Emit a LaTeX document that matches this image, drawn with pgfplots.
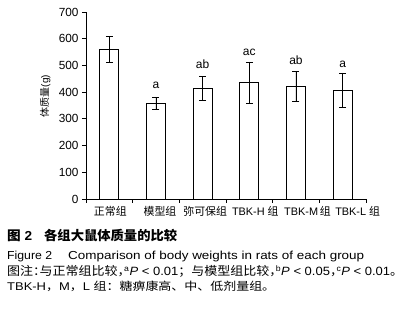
\documentclass[border=0pt]{standalone}
\usepackage{fontspec}
\setmainfont{Liberation Sans}
\newfontfamily\cjk{Noto Sans CJK SC}
\newfontfamily\cjkh[RawFeature=+halt]{Noto Sans CJK SC}
\usepackage{graphicx}
\usepackage{pgfplots}
\pgfplotsset{compat=1.18}
\newcommand\zh[1]{{\cjk #1}}
\newcommand\zhh[1]{{\cjkh #1}}
\begin{document}
\begin{tikzpicture}
\path[use as bounding box] (0pt,0pt) rectangle (416pt,313pt);
\begin{axis}[
  at={(86pt,114pt)}, anchor=south west,
  scale only axis, width=280pt, height=187pt,
  xmin=-0.5, xmax=5.5, ymin=0, ymax=700,
  axis x line*=bottom, axis y line*=left,
  axis line style={line width=0.8pt, black},
  xtick={0,...,5},
  xticklabels={{\hspace{2pt}\zh{正常组}},{\hspace{8pt}\zh{模型组}},{\hspace{5pt}\zh{弥可保组}},{\hspace{12pt}TBK-H \zh{组}},{\hspace{23pt}TBK-M\,\zh{组}},{\hspace{30pt}TBK-L \zh{组}}},
  major x tick style={draw=none},
  minor xtick={-0.5,0.5,...,5.5},
  minor tick length=4pt,
  major tick length=4pt,
  ytick={0,100,...,700},
  tick align=outside,
  tick style={black, line width=0.8pt},
  /pgf/number format/assume math mode=true,
  y tick label style={font=\fontsize{11.8}{12}\selectfont},
  x tick label style={font=\fontsize{10.9}{12}\selectfont},
  ylabel={\zh{体质量}(g)},
  ylabel style={font=\fontsize{10}{12}\selectfont, at={(axis description cs:-0.146,0.55)}, anchor=center},
  clip=false,
]
\addplot[ybar, bar width=19pt, fill=white, draw=black, line width=0.8pt,
  error bars/.cd, y dir=both, y explicit,
  error bar style={black, line width=0.8pt},
  error mark options={rotate=90, mark size=3.5pt, black, line width=0.8pt}]
  coordinates {
  (0,560) +- (0,47)
  (1,358) +- (0,24)
  (2,414) +- (0,45)
  (3,435) +- (0,78)
  (4,421) +- (0,57)
  (5,407) +- (0,65)
  };
\addplot[draw=none, mark=none, nodes near coords, point meta=explicit symbolic,
  nodes near coords style={anchor=base, inner sep=0pt, font=\fontsize{12}{12}\selectfont, black}]
  coordinates {(1,414)[a] (2,487)[ab] (3,539)[ac] (4,502)[ab] (5,492)[a]};
\end{axis}
\node[anchor=base west, inner sep=0pt, font=\bfseries\fontsize{13}{14}\selectfont] at (7pt,72.5pt) {\resizebox{25pt}{\height}{\zh{图} 2}};
\node[anchor=base west, inner sep=0pt, font=\bfseries\fontsize{13}{14}\selectfont] at (44pt,72.5pt) {\resizebox{133pt}{\height}{\zh{各组大鼠体质量的比较}}};
\node[anchor=base west, inner sep=0pt, font=\fontsize{11.6}{12}\selectfont] at (7pt,53.7pt) {\resizebox{45pt}{\height}{Figure 2}};
\node[anchor=base west, inner sep=0pt, font=\fontsize{11.6}{12}\selectfont] at (68pt,53.7pt) {\resizebox{296pt}{\height}{Comparison of body weights in rats of each group}};
\node[anchor=base west, inner sep=0pt, font=\fontsize{12}{12}\selectfont] at (7pt,37pt) {\resizebox{396pt}{\height}{\zh{图注}\zhh{：}\zh{与正常组比较}\zhh{，}\textsuperscript{a}\textit{P} < 0.01\zh{；与模型组比较}\zhh{，}\textsuperscript{b}\textit{P} < 0.05\zhh{，}\textsuperscript{c}\textit{P} < 0.01\zh{。}}};
\node[anchor=base west, inner sep=0pt, font=\fontsize{11.2}{12}\selectfont] at (7pt,22.7pt) {\resizebox{268pt}{\height}{TBK-H\zh{，}M\zh{，}L \zh{组：糖痹康高、中、低剂量组。}}};
\end{tikzpicture}
\end{document}
